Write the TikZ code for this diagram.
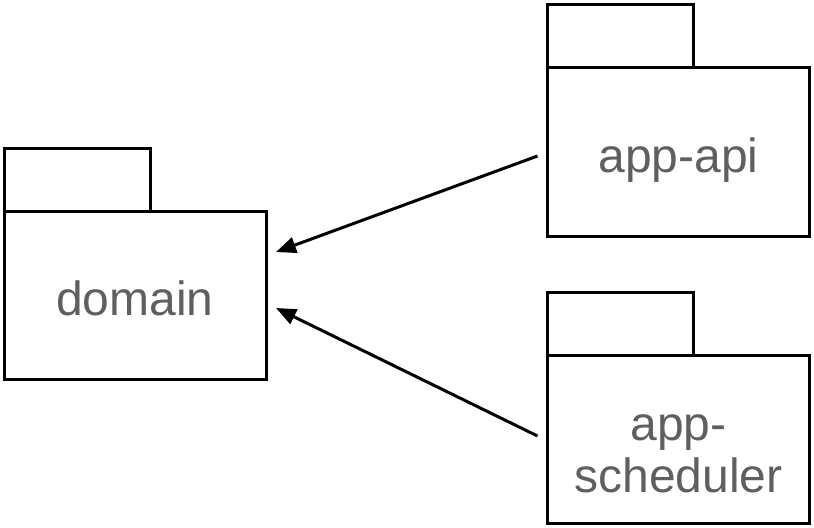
\documentclass[tikz,border=0pt]{standalone}
\usepackage{fontspec}
\setmainfont{Liberation Sans}
\usetikzlibrary{arrows.meta}
\usetikzlibrary{positioning}
\usetikzlibrary{calc}
\definecolor{pkgtext}{RGB}{95,95,95}

\tikzset{
	pkgbody/.style={draw, line width=2.25pt, minimum width=196.5pt, minimum height=126pt,
			inner sep=0pt, outer sep=0pt, align=center, text=pkgtext,
			text height=30pt, text depth=0pt, font=\fontsize{36}{39}\selectfont},
	pkgtab/.style={draw, line width=2.25pt, minimum width=109.5pt, minimum height=47.25pt,
			inner sep=0pt, outer sep=0pt, anchor=south west},
	dependson/.style={line width=2.25pt, -{Triangle[length=15pt, width=12pt]}}
}

\begin{document}
\begin{tikzpicture}[x=0.75pt, y=-0.75pt]
				\useasboundingbox (0, 0) rectangle (814, 528);

				% packages
				\node[pkgbody] (domain) at (135, 295) {domain};
				\node[pkgtab] (domaintab) at (domain.north west) {};

				\node[pkgbody] (api) at (678.5, 152) {app-api};
				\node[pkgtab] (apitab) at (api.north west) {};

				\node[pkgbody, text height=79.5pt] (scheduler) at (678.5, 439) {app-\\scheduler};
				\node[pkgtab] (schedulertab) at (scheduler.north west) {};

				% dependencies
				\draw[dependson] ($(api.west)+(-10, 4)$) -- ($(domain.east)+(10, -43)$);
				\draw[dependson] ($(scheduler.west)+(-10, -3)$) -- ($(domain.east)+(10, 13)$);
			\end{tikzpicture}
\end{document}
